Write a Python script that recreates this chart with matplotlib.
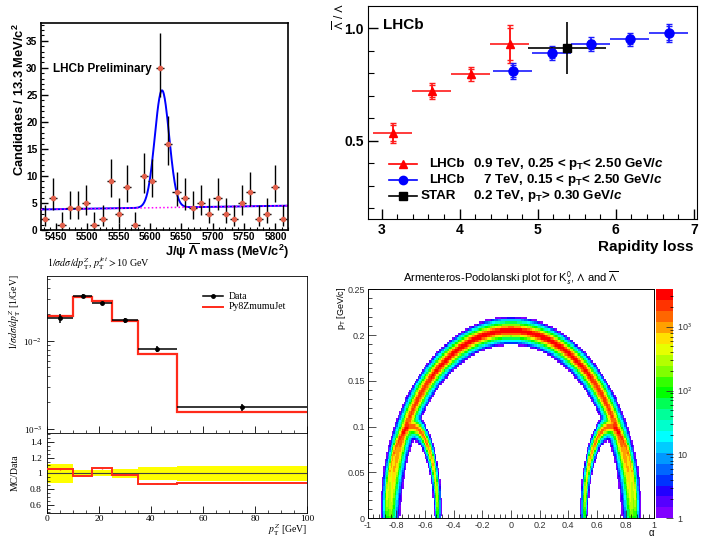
import numpy as np
import matplotlib
matplotlib.use('Agg')
import matplotlib.pyplot as plt
from matplotlib.colors import ListedColormap, LogNorm
from matplotlib.ticker import MultipleLocator, FixedLocator, NullFormatter, LogLocator

plt.rcParams['font.family'] = ['Liberation Sans', 'DejaVu Sans']
plt.rcParams['mathtext.fontset'] = 'custom'
plt.rcParams['mathtext.rm'] = 'Liberation Sans:bold'
plt.rcParams['mathtext.bf'] = 'Liberation Sans:bold'
plt.rcParams['mathtext.it'] = 'Liberation Sans:italic:bold'
plt.rcParams['mathtext.sf'] = 'Liberation Sans:bold'
plt.rcParams['xtick.direction'] = 'in'
plt.rcParams['ytick.direction'] = 'in'

# --- top left: J/psi Lambdabar mass ---
mass_counts = np.array([2, 6, 1, 4, 4, 5, 1, 2, 9, 3, 8, 1, 10, 9, 30,
                        16, 7, 6, 4, 5, 3, 6, 3, 2, 5, 7, 2, 3, 8, 2])
mass_first, mass_width = 5432.6, 13.1
fit_bg_ends = (3.8, 4.5)
fit_mean, fit_sigma, fit_amp = 5619.0, 11.5, 21.7

# --- top right: Lambdabar/Lambda vs rapidity loss ---
lhcb09_x = [3.14, 3.64, 4.14, 4.64]
lhcb09_y = [0.536, 0.721, 0.797, 0.929]
lhcb09_stat = [0.035, 0.025, 0.02, 0.07]
lhcb09_tot = [0.045, 0.035, 0.03, 0.085]
lhcb7_x = [4.68, 5.18, 5.68, 6.18, 6.68]
lhcb7_y = [0.81, 0.889, 0.929, 0.951, 0.978]
lhcb7_stat = [0.025, 0.02, 0.02, 0.02, 0.03]
lhcb7_tot = [0.035, 0.03, 0.03, 0.03, 0.04]
star_x, star_y, star_xerr, star_yerr = [5.38], [0.912], [0.5], [0.115]

# --- bottom left: Z pT ---
zpt_edges = np.array([0, 10, 17.5, 25, 35, 50, 100])
zpt_data = np.array([0.0183, 0.0324, 0.0270, 0.0172, 0.0082, 0.00178])
zpt_mc = np.array([0.0194, 0.0314, 0.0287, 0.0169, 0.00711, 0.00157])
zpt_data_relerr = np.array([0.12, 0.043, 0.04, 0.057, 0.083, 0.092])
zpt_mc_relerr = np.array([0.012, 0.01, 0.01, 0.01, 0.008, 0.01])

# --- bottom right: Armenteros-Podolanski ellipses (K0s, Lambda, Lambdabar) ---
arm_center = [0.0, 0.69, -0.69]
arm_halfwidth = [0.84, 0.18, 0.18]
arm_ptmax = [0.205, 0.100, 0.100]
arm_peak = [3500.0, 1500.0, 1500.0]
arm_core = [0.0115, 0.022, 0.022]   # core width in ellipse radius
arm_tail = [0.022, 0.045, 0.045]    # tail width
palette = ['#8000ff', '#5500ff', '#2200ff', '#0033ff', '#0066ff', '#0099ff',
           '#00ccff', '#00ffff', '#00ffcc', '#00ff99', '#00ff55', '#00ff00',
           '#33ff00', '#80ff00', '#b3ff00', '#e6ff00', '#ffe000', '#ffa000',
           '#ff6600', '#ff3300', '#ff0000']

W, H = 708, 537
fig = plt.figure(figsize=(W / 100, H / 100), dpi=100)


def box(l, t, r, b):
    return [l / W, 1 - b / H, (r - l) / W, (b - t) / H]


def bold_ticks(ax):
    for lab in ax.get_xticklabels() + ax.get_yticklabels():
        lab.set_fontweight('bold')


# ===== top left =====
ax1 = fig.add_axes(box(41, 23, 288, 230))
n = mass_counts.astype(float)
err_hi = (n + 1) * (1 - 1 / (9 * (n + 1)) + 1 / (3 * np.sqrt(n + 1))) ** 3 - n
err_lo = n - n * (1 - 1 / (9 * n) - 1 / (3 * np.sqrt(n))) ** 3
mass_x = mass_first + mass_width * np.arange(len(n))
xf = np.linspace(5426, 5820, 500)
bg = np.interp(xf, [5426, 5820], fit_bg_ends)
sig = bg + fit_amp * np.exp(-0.5 * ((xf - fit_mean) / fit_sigma) ** 2)
ax1.plot(xf, sig, color='#0000ff', lw=1.4, zorder=2)
ax1.plot(xf, bg, color='#ff00ff', lw=1.1, ls=(0, (1, 1.5)), zorder=3)
ax1.errorbar(mass_x, n, yerr=[err_lo, err_hi], xerr=mass_width / 2, fmt='o', ms=3,
             mfc='#e0604c', mec='#e0604c', ecolor='black', elinewidth=1, capsize=0, zorder=4)
ax1.set_xlim(5426, 5820)
ax1.set_ylim(0, 38.3)
ax1.set_xticks([5450, 5500, 5550, 5600, 5650, 5700, 5750, 5800])
ax1.xaxis.set_minor_locator(MultipleLocator(10))
ax1.set_yticks([0, 5, 10, 15, 20, 25, 30, 35])
ax1.yaxis.set_minor_locator(MultipleLocator(1))
ax1.tick_params(labelsize=7.3, length=5, width=1, pad=2.5)
ax1.tick_params(axis='x', pad=1.5)
ax1.tick_params(which='minor', length=2.5, width=0.8)
bold_ticks(ax1)
for s in ax1.spines.values():
    s.set_linewidth(1.2)
ax1.text(5445, 29.8, 'LHCb Preliminary', fontsize=8.5, fontweight='bold', va='center')
fig.text(19.5 / W, 1 - 23 / H, 'Candidates / 13.3 MeV/c$^2$', rotation=90, ha='center',
         va='top', fontsize=9.3, fontweight='bold')
fig.text(289 / W, 1 - 256 / H, 'J/\u03c8 $\\overline{\\Lambda}$ mass (MeV/c$^2$)', ha='right',
         va='baseline', fontsize=9.2, fontweight='bold')

# ===== top right =====
ax2 = fig.add_axes(box(368, 6, 697, 219))
for xs, ys, st, tot, mk, col, ecol, ms in [
        (lhcb09_x, lhcb09_y, lhcb09_stat, lhcb09_tot, '^', '#ff0000', '#ff1a1a', 6),
        (lhcb7_x, lhcb7_y, lhcb7_stat, lhcb7_tot, 'o', '#0000ff', '#1a1aff', 6.5)]:
    ax2.errorbar(xs, ys, xerr=0.25, fmt='none', ecolor=ecol, elinewidth=1.2, capsize=0)
    ax2.errorbar(xs, ys, yerr=tot, fmt='none', ecolor=ecol, elinewidth=1.2, capsize=2.5)
    ax2.errorbar(xs, ys, yerr=st, fmt=mk, color=col, ms=ms, ecolor=ecol, elinewidth=1.2,
                 capsize=2.5)
ax2.errorbar(star_x, star_y, xerr=star_xerr, yerr=star_yerr, fmt='s', color='black', ms=6,
             elinewidth=1.2, capsize=0)
ax2.set_xlim(2.825, 7.04)
ax2.set_ylim(0.152, 1.099)
ax2.set_xticks([3, 4, 5, 6, 7])
ax2.xaxis.set_minor_locator(MultipleLocator(0.2))
ax2.set_yticks([0.5, 1.0])
ax2.set_yticklabels(['0.5', '1.0'])
ax2.yaxis.set_minor_locator(FixedLocator([0.2, 0.3, 0.4, 0.6, 0.7, 0.8, 0.9]))
ax2.tick_params(labelsize=10, length=7, width=1, pad=3)
ax2.tick_params(which='minor', length=3.5, width=0.8)
ax2.tick_params(axis='y', which='minor', length=4.5)
bold_ticks(ax2)
ax2.text(0.046, 0.911, 'LHCb', transform=ax2.transAxes, fontsize=11, fontweight='bold',
         va='center')
leg_rows = [(0.258, '^', '#ff0000', 'LHCb', '0.9 TeV, 0.25 < p$_\\mathrm{T}$< 2.50 GeV/$c$', 0.319),
            (0.183, 'o', '#0000ff', 'LHCb', '7 TeV, 0.15 < p$_\\mathrm{T}$< 2.50 GeV/$c$', 0.350),
            (0.108, 's', 'black', 'STAR', '0.2 TeV, p$_\\mathrm{T}$> 0.30 GeV/$c$', 0.319)]
for yy, mk, col, name, desc, xd in leg_rows:
    ax2.plot([0.064, 0.149], [yy, yy], color=col, lw=1.2, transform=ax2.transAxes)
    ax2.plot([0.1065], [yy], marker=mk, color=col, ms=6, transform=ax2.transAxes)
    ax2.text(0.185 if name == 'LHCb' else 0.161, yy, name, transform=ax2.transAxes,
             fontsize=9.6, fontweight='bold', va='center')
    ax2.text(xd, yy, desc, transform=ax2.transAxes, fontsize=9.6, fontweight='bold',
             va='center')
fig.text(694 / W, 1 - 247 / H, 'Rapidity loss', ha='right', va='center', fontsize=11,
         fontweight='bold')
fig.text(339 / W, 1 - 3 / H, '$\\overline{\\Lambda}$ / $\\Lambda$', rotation=90, ha='center',
         va='top', fontsize=8.5, math_fontfamily='stixsans')

# ===== bottom left (main + ratio) =====
serif = 'Liberation Serif'
ax3 = fig.add_axes(box(46.7, 275.7, 307.3, 433.3))
ax4 = fig.add_axes(box(46.7, 433.3, 307.3, 513.3), sharex=ax3)
zc = 0.5 * (zpt_edges[:-1] + zpt_edges[1:])
zw = 0.5 * np.diff(zpt_edges)
ax3.stairs(zpt_mc, zpt_edges, baseline=None, color='#ff2a1a', lw=1.6, zorder=2)
ax3.errorbar(zc, zpt_data, xerr=zw, yerr=zpt_data * zpt_data_relerr, fmt='o', color='black',
             ms=2.5, elinewidth=1.1, capsize=0, zorder=3)
ax3.set_yscale('log')
ax3.set_ylim(8.93e-4, 0.0552)
ax3.set_xlim(0, 100)
ax3.yaxis.set_major_locator(FixedLocator([1e-3, 1e-2]))
ax3.yaxis.set_minor_locator(LogLocator(base=10, subs=np.arange(2, 10)))
ax3.yaxis.set_minor_formatter(NullFormatter())
ax3.set_yticklabels(['10$^{-3}$', '10$^{-2}$'])
ax3.tick_params(labelsize=6.5, length=5, width=0.6)
ax3.tick_params(which='minor', length=2.5, width=0.5)
ax3.tick_params(axis='x', labelbottom=False)
for lab in ax3.get_yticklabels():
    lab.set_family(serif)
    lab.set_math_fontfamily('stix')
ax3.xaxis.set_major_locator(MultipleLocator(20))
ax3.xaxis.set_minor_locator(MultipleLocator(5))
for s in ax3.spines.values():
    s.set_linewidth(0.6)
ax3.plot([0.6, 0.677], [0.871, 0.871], color='black', lw=1.1, transform=ax3.transAxes)
ax3.plot([0.6385], [0.871], 'o', color='black', ms=2.5, transform=ax3.transAxes)
ax3.plot([0.6, 0.677], [0.802, 0.802], color='#ff2a1a', lw=1.4, transform=ax3.transAxes)
ax3.text(0.70, 0.871, 'Data', transform=ax3.transAxes, fontsize=7, family=serif, va='center')
ax3.text(0.70, 0.802, 'Py8ZmumuJet', transform=ax3.transAxes, fontsize=7, family=serif,
         va='center')
ax3.text(0.0, 1.055, '$1/\\sigma d\\sigma/dp_\\mathrm{T}^Z$, $p_\\mathrm{T}^{jet}>$10 GeV',
         transform=ax3.transAxes, fontsize=7.3, family=serif, math_fontfamily='stix',
         va='baseline', ha='left')
fig.text(15 / W, 1 - 274 / H, '$1/\\sigma d\\sigma/dp_\\mathrm{T}^Z$ [1/GeV]', rotation=90,
         ha='center', va='top', fontsize=7, family=serif, math_fontfamily='stix')

ratio = zpt_mc / zpt_data
ax4.stairs(1 + zpt_data_relerr, zpt_edges, baseline=1 - zpt_data_relerr, fill=True,
           color='#ffff00', lw=0, zorder=1)
ax4.axhline(1, color='#404040', lw=0.8, zorder=2)
ax4.stairs(ratio, zpt_edges, baseline=None, color='#ff2a1a', lw=1.4, zorder=3)
ax4.errorbar(zc, ratio, yerr=ratio * zpt_mc_relerr, fmt='none', ecolor='#ff2a1a',
             elinewidth=0.9, zorder=3)
ax4.set_ylim(0.489, 1.511)
ax4.set_yticks([0.6, 0.8, 1.0, 1.2, 1.4])
ax4.set_yticklabels(['0.6', '0.8', '1', '1.2', '1.4'])
ax4.yaxis.set_minor_locator(MultipleLocator(0.05))
ax4.set_xticks([0, 20, 40, 60, 80, 100])
ax4.set_xticklabels(['0', '20', '40', '60', '80', '100'])
ax4.tick_params(labelsize=6.8, length=5, width=0.6)
ax4.tick_params(axis='x', pad=1.5)
ax4.tick_params(which='minor', length=2.5, width=0.5)
for lab in ax4.get_xticklabels() + ax4.get_yticklabels():
    lab.set_family(serif)
for s in ax4.spines.values():
    s.set_linewidth(0.6)
fig.text(15 / W, 1 - 473 / H, 'MC/Data', rotation=90, ha='center', va='center', fontsize=7,
         family=serif)
fig.text(307 / W, 1 - 533 / H, '$p_\\mathrm{T}^Z$ [GeV]', ha='right', va='baseline',
         fontsize=7, family=serif, math_fontfamily='stix')

# ===== bottom right: Armenteros =====
ax5 = fig.add_axes(box(367.7, 289.3, 654.3, 518.3))
cax = fig.add_axes(box(656, 289.3, 672.7, 518.3))
a_edges = np.linspace(-1, 1, 201)
p_edges = np.linspace(0, 0.25, 101)
A, P = np.meshgrid(0.5 * (a_edges[:-1] + a_edges[1:]), 0.5 * (p_edges[:-1] + p_edges[1:]))
counts = np.zeros_like(A)
for a0, ra, pm, pk, wc, wt in zip(arm_center, arm_halfwidth, arm_ptmax, arm_peak,
                                  arm_core, arm_tail):
    r = np.sqrt(((A - a0) / ra) ** 2 + (P / pm) ** 2)
    grow = 1.5 - 0.5 * np.clip(P / pm, 0, 1)
    prof = (np.exp(-0.5 * ((r - 1) / (wc * grow)) ** 2)
            + 0.1 * np.exp(-0.5 * ((r - 1) / (wt * grow)) ** 2))
    counts += pk * (0.06 + 0.94 * np.clip(P / pm, 0, 1)) * prof / grow
counts = np.ma.masked_less(np.floor(counts), 1)
cmap = ListedColormap(palette)
mesh = ax5.pcolormesh(a_edges, p_edges, counts, cmap=cmap, norm=LogNorm(1, 3850))
ax5.set_xlim(-1, 1)
ax5.set_ylim(0, 0.25)
ax5.set_xticks(np.round(np.arange(-1, 1.01, 0.2), 1))
ax5.set_xticklabels(['-1', '-0.8', '-0.6', '-0.4', '-0.2', '0', '0.2', '0.4', '0.6', '0.8', '1'])
ax5.xaxis.set_minor_locator(MultipleLocator(0.04))
ax5.set_yticks([0, 0.05, 0.1, 0.15, 0.2, 0.25])
ax5.set_yticklabels(['0', '0.05', '0.1', '0.15', '0.2', '0.25'])
ax5.yaxis.set_minor_locator(MultipleLocator(0.01))
ax5.tick_params(labelsize=6.5, length=6, width=0.6, pad=2, colors='#333333')
ax5.tick_params(which='minor', length=3, width=0.5)
for s in ax5.spines.values():
    s.set_linewidth(0.7)
ax5.set_title('Armenteros-Podolanski plot for K$^0_s$, $\\Lambda$ and $\\overline{\\Lambda}$',
              fontsize=8, math_fontfamily='stixsans', pad=5)
fig.text(342 / W, 1 - 287 / H, 'p$_\\mathrm{T}$ [GeV/c]', rotation=90, ha='center', va='top',
         fontsize=6.5, math_fontfamily='stixsans')
fig.text(651 / W, 1 - 533 / H, '\u03b1', ha='center', va='center', fontsize=7)
cb = fig.colorbar(mesh, cax=cax)
cb.outline.set_visible(False)
cb.set_ticks([1, 10, 100, 1000])
cb.set_ticklabels(['1', '10', '10$^2$', '10$^3$'])
cax.tick_params(direction='in', labelsize=6.5, length=5, width=0.6, colors='#333333', pad=3)
cax.tick_params(which='minor', direction='in', length=2.5, width=0.5)
for lab in cax.get_yticklabels():
    lab.set_math_fontfamily('stixsans')

fig.savefig('out.png', dpi=100)
